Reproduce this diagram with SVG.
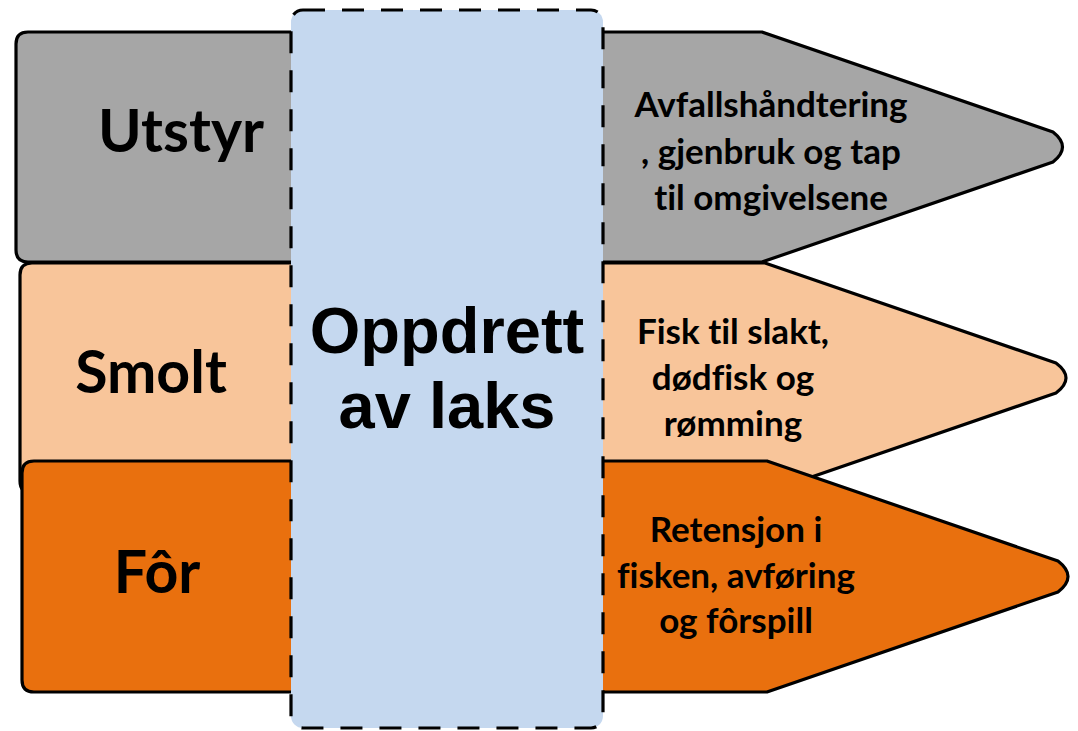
<svg xmlns="http://www.w3.org/2000/svg" width="1078" height="731" viewBox="0 0 1078 731">
  <style>
    .bar { stroke: #000; stroke-width: 3.2; stroke-linejoin: round; }
    .grey { fill: #A6A6A6; }
    .peach { fill: #F8C59A; }
    .orange { fill: #E9700E; }
    .core { fill: #C5D8EF; stroke: #000; stroke-width: 3.2; stroke-dasharray: 22 17; }
    text { font-variant-ligatures: none; font-feature-settings: "liga" 0, "dlig" 0; }
    .label { font-family: Lato, "Open Sans", sans-serif; font-weight: bold; font-size: 59px; fill: #000; text-anchor: middle; }
    .out { font-family: Lato, "Open Sans", sans-serif; font-weight: bold; font-size: 35px; fill: #000; text-anchor: middle; }
    .title { font-family: "Liberation Sans", Arial, sans-serif; font-weight: bold; font-size: 65px; fill: #000; text-anchor: middle; }
  </style>

  <!-- input / output bands -->
  <g id="utstyr">
    <path class="bar grey" d="M28,32 H762 L1053,132 Q1072,147 1053,162 L762,262 H28 Q16,262 16,250 V44 Q16,32 28,32 Z"/>
    <text class="label" x="181" y="152">Utstyr</text>
    <text class="out" x="771" y="117">Avfallshåndtering</text>
    <text class="out" x="771" y="164">, gjenbruk og tap</text>
    <text class="out" x="771" y="210">til omgivelsene</text>
  </g>

  <g id="smolt">
    <path class="bar peach" d="M32,263 H765 L1056,363 Q1076,378 1056,393 L765,493 H32 Q20,493 20,481 V275 Q20,263 32,263 Z"/>
    <text class="label" x="151" y="393">Smolt</text>
    <text class="out" x="733" y="344">Fisk til slakt,</text>
    <text class="out" x="733" y="390">dødfisk og</text>
    <text class="out" x="733" y="436">rømming</text>
  </g>

  <g id="for">
    <path class="bar orange" d="M34,461 H767 L1058,561 Q1078,576.5 1058,592 L767,692 H34 Q22,692 22,680 V473 Q22,461 34,461 Z"/>
    <text class="label" x="157" y="593">Fôr</text>
    <text class="out" x="736" y="542">Retensjon i</text>
    <text class="out" x="736" y="588">fisken, avføring</text>
    <text class="out" x="736" y="633">og fôrspill</text>
  </g>

  <!-- central process -->
  <g id="oppdrett">
    <rect class="core" x="291" y="10" width="312" height="718" rx="12" ry="12"/>
    <text class="title" x="447" y="353">Oppdrett</text>
    <text class="title" x="447" y="428">av laks</text>
  </g>

  <g id="connectors"></g>
</svg>
